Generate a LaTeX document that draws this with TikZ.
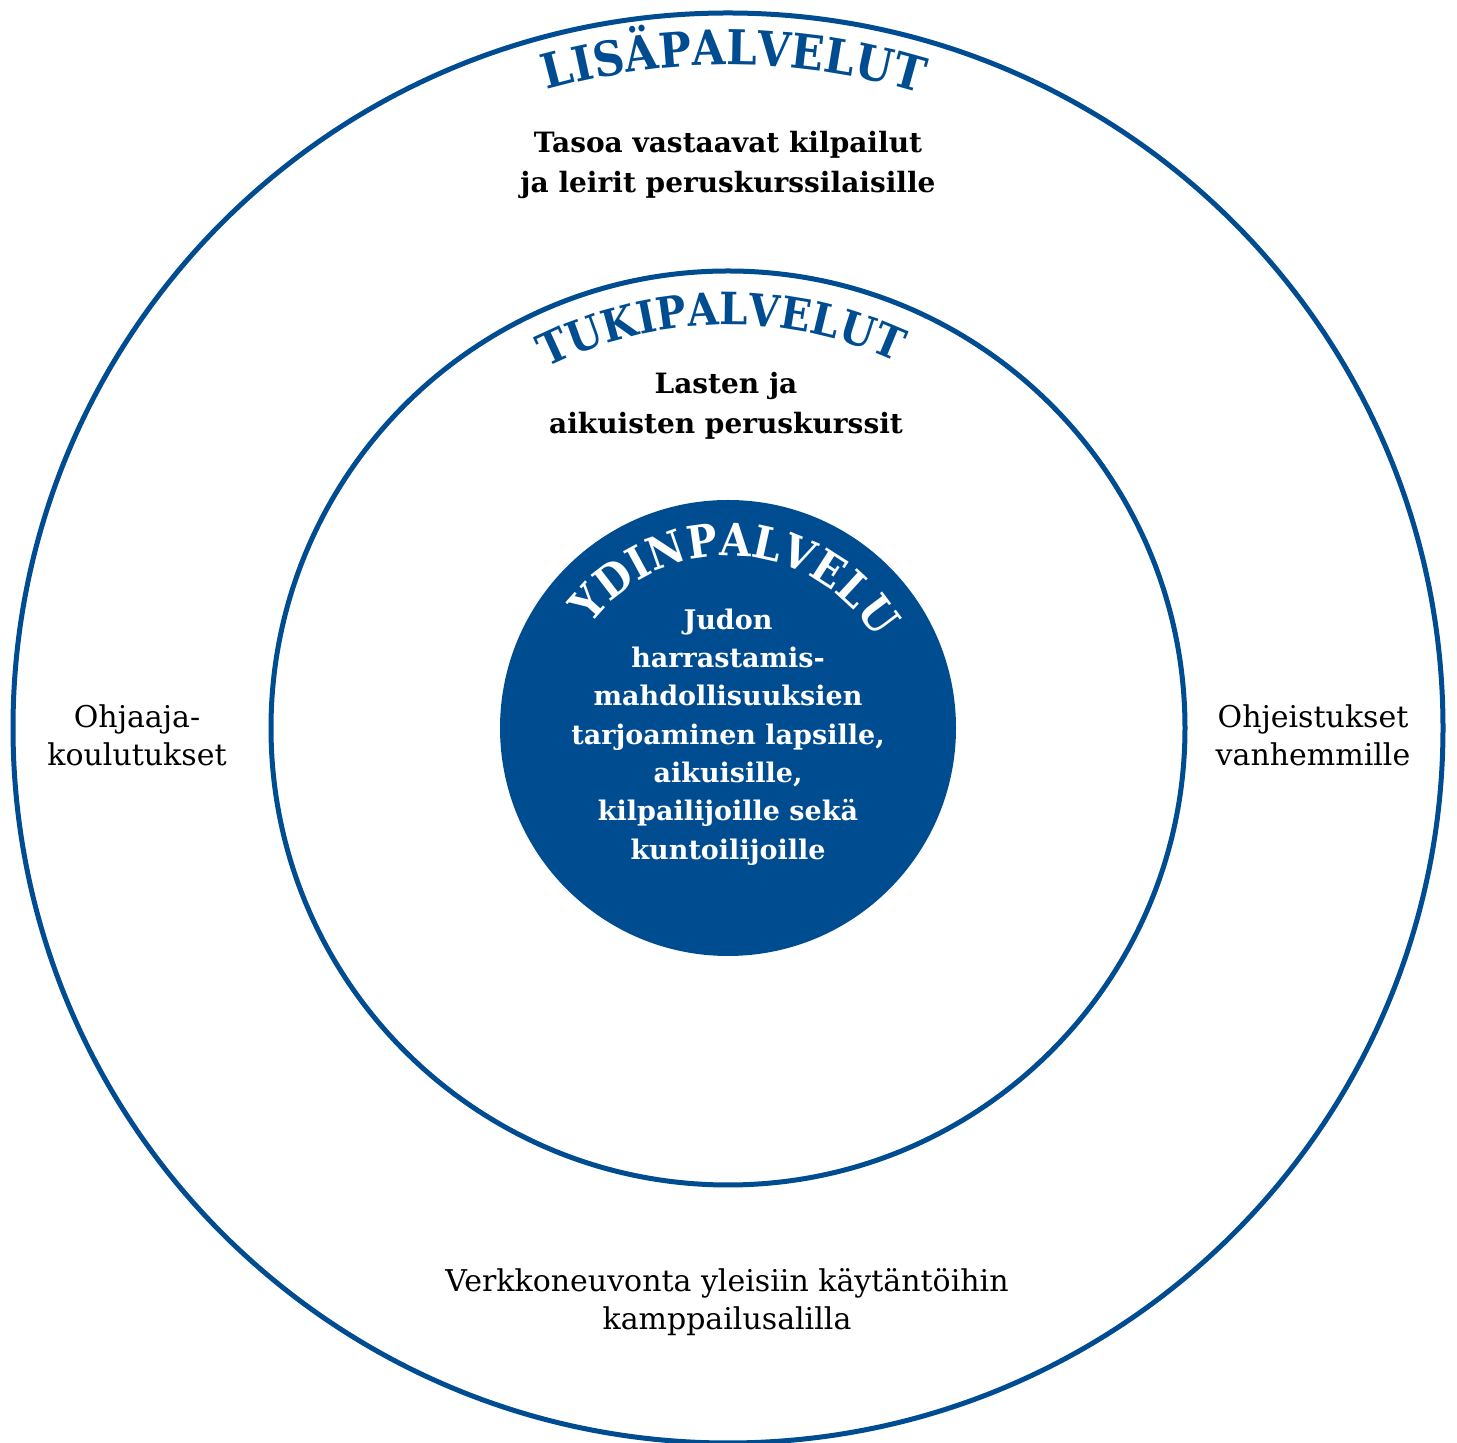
\documentclass[tikz,border=0pt]{standalone}
\usepackage{fontspec}
\usetikzlibrary{decorations.text}
\setmainfont{DejaVu Serif}
\newfontfamily\slab[FakeStretch=0.9]{DejaVu Serif}
\definecolor{mainblue}{HTML}{004C91}
\tikzset{
  ring/.style={draw=mainblue, line width=5pt},
  bodybold/.style={align=center, text=black, font=\fontsize{28}{40}\selectfont\bfseries},
  bodyreg/.style={align=center, text=black, font=\fontsize{30}{38}\selectfont},
  corebold/.style={align=center, text=white, font=\fontsize{27}{38.3}\selectfont\bfseries},
}
\newcommand{\headfont}{\fontsize{48}{48}\selectfont\slab\bfseries\color{mainblue}}
\newcommand{\tukifont}{\fontsize{44.5}{44.5}\selectfont\slab\bfseries\color{mainblue}}
\newcommand{\corehead}{\fontsize{45}{45}\selectfont\slab\bfseries\color{white}}
\begin{document}
\begin{tikzpicture}[x=1pt,y=1pt]
\useasboundingbox (0,0) rectangle (1457,1443);
\coordinate (c) at (728,715);
\node[ring, circle, minimum size=1430pt, inner sep=0pt] (outer) at (c) {};
\node[ring, circle, minimum size=914pt, inner sep=0pt] (inner) at (c) {};
\node[circle, fill=mainblue, minimum size=456pt, inner sep=0pt] (core) at (c) {};
% curved headings
\path[decorate, decoration={text along path, text align=center,
  text={|\headfont|LISÄPALVELUT}}]
  ([shift={(125:663)}]c) arc[start angle=125, end angle=54, radius=663];
\path[decorate, decoration={text along path, text align=center,
  text={|\tukifont|TUKIPALVELUT}}]
  ([shift={(140:403)}]c) arc[start angle=140, end angle=42, radius=403];
\path[decorate, decoration={text along path, text align=center,
  text={|\corehead|YDINPALVELU}}]
  ([shift={(160:172)}]c) arc[start angle=160, end angle=14, radius=172];
% texts
\node[bodybold] (lisa) at (728,1278) {Tasoa vastaavat kilpailut\\ja leirit peruskurssilaisille};
\node[bodybold] (tuki) at (726,1037) {Lasten ja\\aikuisten peruskurssit};
\node[corebold] (ydin) at (728,706) {Judon\\harrastamis-\\mahdollisuuksien\\tarjoaminen lapsille,\\aikuisille,\\kilpailijoille sekä\\kuntoilijoille};
\node[bodyreg] (ohj) at (137,708) {Ohjaaja-\\koulutukset};
\node[bodyreg] (vanh) at (1313,708) {Ohjeistukset\\vanhemmille};
\node[bodyreg] (verkko) at (727,141) {Verkkoneuvonta yleisiin käytäntöihin\\kamppailusalilla};
\end{tikzpicture}
\end{document}
